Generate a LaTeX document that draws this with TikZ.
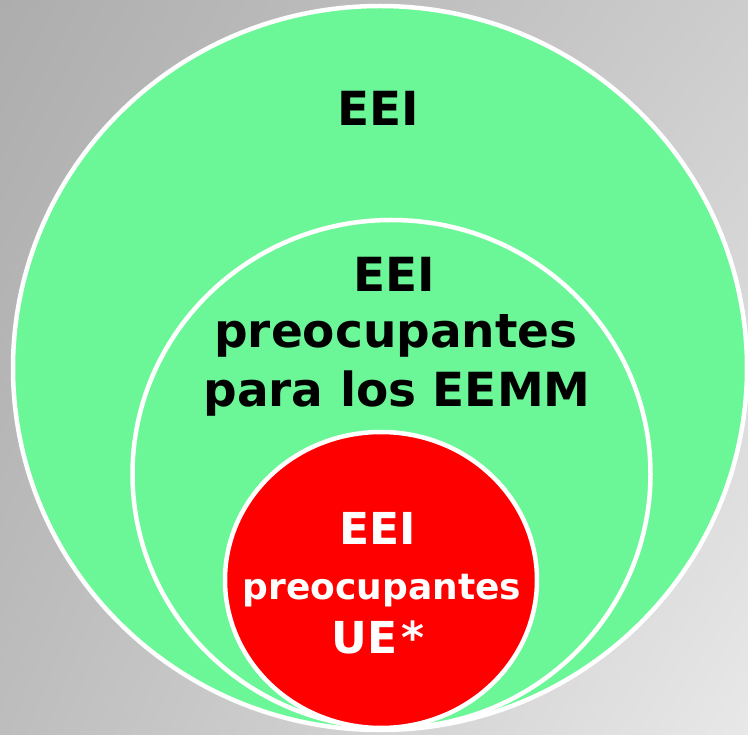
\documentclass[tikz,border=0pt]{standalone}
\usepackage{fontspec}
\setmainfont{DejaVu Sans}
\usetikzlibrary{shapes.geometric,shadings}
\definecolor{bgTL}{HTML}{ADADAD}
\definecolor{bgTR}{HTML}{CDCDCD}
\definecolor{bgBL}{HTML}{BDBDBD}
\definecolor{bgBR}{HTML}{E8E8E8}
\definecolor{leafgreen}{HTML}{6BF797}
\definecolor{alertred}{HTML}{FF0000}
\tikzset{
  zone/.style={ellipse, draw=white, line width=4.5pt, inner sep=0pt},
  blacktxt/.style={anchor=base, inner sep=0pt, text=black, font=\bfseries\fontsize{47}{47}\selectfont},
  redbig/.style={anchor=base, inner sep=0pt, text=white, font=\bfseries\fontsize{44}{44}\selectfont},
  redsmall/.style={anchor=base, inner sep=0pt, text=white, font=\bfseries\fontsize{36}{36}\selectfont}
}
\begin{document}
\begin{tikzpicture}[x=1pt,y=-1pt]
\useasboundingbox (0,0) rectangle (748,735);
\shade[upper left=bgTL, upper right=bgTR, lower left=bgBL, lower right=bgBR] (0,0) rectangle (748,735);
\node[zone, fill=leafgreen, minimum width=734pt, minimum height=724pt] (outer) at (380,368) {};
\node[zone, fill=leafgreen, minimum width=518pt, minimum height=508pt] (middle) at (391.5,474) {};
\node[zone, fill=alertred, minimum width=312pt, minimum height=296pt] (inner) at (381,580) {};
\node[blacktxt] (t1) at (378,126) {EEI};
\node[blacktxt] (m1) at (394,292) {EEI};
\node[blacktxt] (m2) at (396,348) {preocupantes};
\node[blacktxt] (m3) at (397,407) {para los EEMM};
\node[redbig] (r1) at (378,545) {EEI};
\node[redsmall] (r2) at (382,600) {preocupantes};
\node[redbig] (r3) at (378,653) {UE\kern4pt*};
\end{tikzpicture}
\end{document}
